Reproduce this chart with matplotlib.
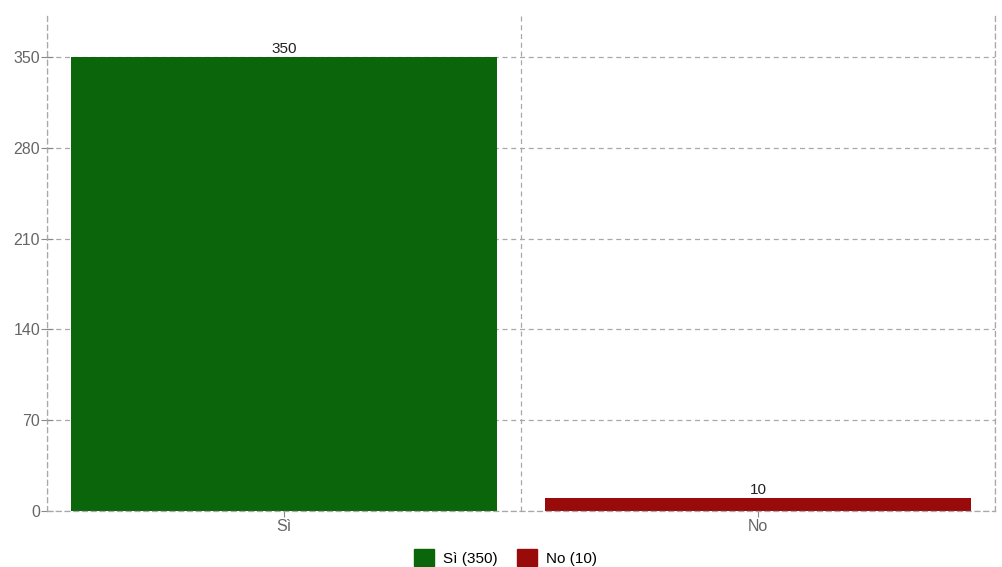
import matplotlib.pyplot as plt
from matplotlib.patches import Patch

plt.rcParams['font.family'] = ['Liberation Sans', 'DejaVu Sans']

categories = ["Sì", "No"]
counts = [350, 10]
colors = ["#0b650b", "#990b0b"]
y_ticks = [0, 70, 140, 210, 280, 350]

fig = plt.figure(figsize=(10.03, 5.67), dpi=100)
ax = fig.add_axes([0.0469, 0.0988, 0.9452, 0.878])

x = list(range(len(categories)))
bars = ax.bar(x, counts, width=0.9, color=colors, zorder=2)
for xi, v in zip(x, counts):
    ax.text(xi, v + 1, str(v), ha="center", va="bottom", fontsize=11, color="#222222", zorder=3)

ax.set_xlim(-0.5, len(categories) - 0.5)
ax.set_ylim(0, 384)
ax.set_yticks(y_ticks)
ax.set_xticks(x)
ax.set_xticklabels(categories)
ax.set_xticks([i - 0.5 for i in range(len(categories) + 1)], minor=True)

grid_kw = dict(color="#a8a8a8", linestyle=(0, (4, 3)), linewidth=0.9)
ax.grid(axis="y", which="major", zorder=1, **grid_kw)
ax.grid(axis="x", which="minor", zorder=1, **grid_kw)
ax.grid(axis="x", which="major", visible=False)

ax.spines["top"].set_visible(False)
for side in ["left", "right", "bottom"]:
    ax.spines[side].set_color("#a8a8a8")
    ax.spines[side].set_linestyle((0, (4, 3)))
    ax.spines[side].set_linewidth(0.9)

ax.tick_params(axis="y", which="major", direction="inout", length=8, color="#888888",
               labelcolor="#666666", labelsize=11.5, pad=1)
ax.tick_params(axis="x", which="major", direction="out", length=4, color="#888888",
               labelcolor="#666666", labelsize=11.5, pad=2)
ax.tick_params(axis="x", which="minor", length=0)

handles = [Patch(color=c, label=f"{cat} ({v})") for cat, v, c in zip(categories, counts, colors)]
fig.legend(handles=handles, loc="lower center", bbox_to_anchor=(0.504, -0.022), ncol=2,
           frameon=False, fontsize=11, handlelength=1.3, handleheight=1.3,
           handletextpad=0.6, columnspacing=1.3)

fig.savefig("out.png", dpi=100)
